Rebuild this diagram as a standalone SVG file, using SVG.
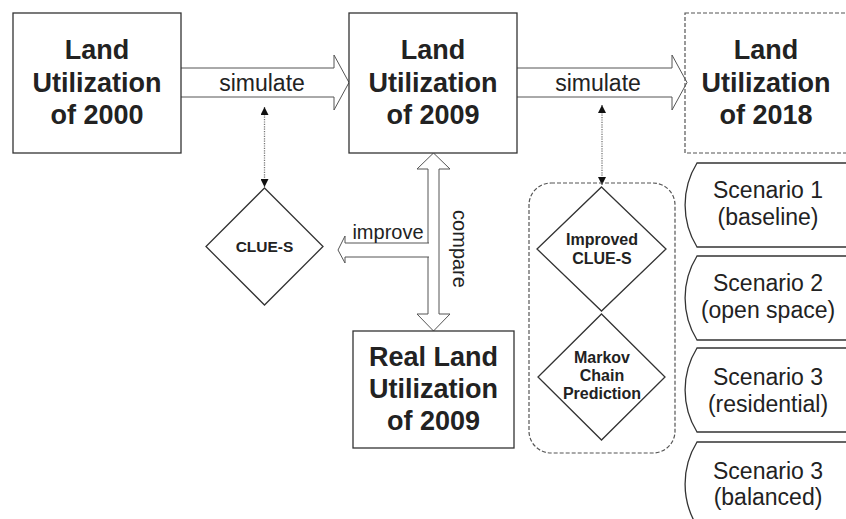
<svg xmlns="http://www.w3.org/2000/svg" width="846" height="519" viewBox="0 0 846 519">
<defs>
<style>
.box{fill:#fff;stroke:#333;stroke-width:1.3}
.dbox{fill:none;stroke:#555;stroke-width:1.2;stroke-dasharray:4,2}
.arr{fill:#fff;stroke:#555;stroke-width:1}
.dot{fill:none;stroke:#777;stroke-width:1.3;stroke-dasharray:1.2,1.2}
.title{font-family:"Liberation Sans",Arial,sans-serif;font-weight:bold;font-size:27px;fill:#222;text-anchor:middle}
.lbl{font-family:"Liberation Sans",Arial,sans-serif;font-size:20px;fill:#222;text-anchor:middle}
.sim{font-size:23px}
.sc{font-family:"Liberation Sans",Arial,sans-serif;font-size:23px;fill:#222;text-anchor:middle}
.dt{font-family:"Liberation Sans",Arial,sans-serif;font-weight:bold;font-size:16px;fill:#222;text-anchor:middle}
</style>
<marker id="ah" viewBox="0 0 10 10" refX="10" refY="5" markerWidth="8" markerHeight="8" markerUnits="userSpaceOnUse" orient="auto-start-reverse">
<path d="M0,0 L10,5 L0,10 Z" fill="#111"/>
</marker>
</defs>

<g id="connectors">
<path class="arr" d="M181,68 H334 V55 L349,82.5 L334,110 V97 H181"/>
<text class="lbl sim" x="262" y="91">simulate</text>
<path class="arr" d="M517,68 H672 V55 L687,82.5 L672,110 V97 H517"/>
<text class="lbl sim" x="598" y="91">simulate</text>
<path class="arr" d="M433.5,153 L450,169 H439 V314 H450 L433.5,331 L417,314 H428 V169 H417 Z"/>
<path class="arr" d="M429,243 H345 V236 L338,250 L345,263 V257 H429"/>
<text class="lbl" x="388" y="239">improve</text>
<text class="lbl" transform="translate(453,249) rotate(90)" x="0" y="0">compare</text>
<line class="dot" x1="264.5" y1="107" x2="264.5" y2="187" marker-start="url(#ah)" marker-end="url(#ah)"/>
<line class="dot" x1="602" y1="105" x2="602" y2="185" marker-start="url(#ah)" marker-end="url(#ah)"/>
</g>

<g id="land2000">
<rect class="box" x="13" y="13" width="168" height="140"/>
<text class="title" x="97" y="59">Land</text>
<text class="title" x="97" y="92">Utilization</text>
<text class="title" x="97" y="124">of 2000</text>
</g>

<g id="land2009">
<rect class="box" x="349" y="13" width="168" height="140"/>
<text class="title" x="433" y="59">Land</text>
<text class="title" x="433" y="92">Utilization</text>
<text class="title" x="433" y="124">of 2009</text>
</g>

<g id="land2018">
<rect class="dbox" x="685" y="13" width="170" height="140"/>
<text class="title" x="766" y="59">Land</text>
<text class="title" x="766" y="92">Utilization</text>
<text class="title" x="766" y="124">of 2018</text>
</g>

<g id="realland2009">
<rect class="box" x="353" y="331" width="161" height="117"/>
<text class="title" x="433.5" y="366">Real Land</text>
<text class="title" x="433.5" y="398">Utilization</text>
<text class="title" x="433.5" y="430">of 2009</text>
</g>

<g id="clues">
<path class="box" d="M264.5,188 L323,246.5 L264.5,305 L206,246.5 Z"/>
<text class="dt" x="264.5" y="252" style="font-size:15.5px">CLUE-S</text>
</g>

<g id="models">
<rect class="dbox" x="529" y="183" width="146" height="270" rx="22" ry="22"/>
</g>

<g id="improvedclues">
<path class="box" d="M601.5,187 L666,249 L601.5,311 L537,249 Z"/>
<text class="dt" x="602" y="245">Improved</text>
<text class="dt" x="602" y="264">CLUE-S</text>
</g>

<g id="markov">
<path class="box" d="M601.5,314 L665,377 L601.5,440 L538,377 Z"/>
<text class="dt" x="602" y="363">Markov</text>
<text class="dt" x="602" y="381">Chain</text>
<text class="dt" x="602" y="399">Prediction</text>
</g>

<g id="scenario1">
<path class="box" d="M855,163 H697 A80,80 0 0,0 697,247 H855"/>
<text class="sc" x="768" y="198">Scenario 1</text>
<text class="sc" x="768" y="225">(baseline)</text>
</g>
<g id="scenario2">
<path class="box" d="M855,256 H697 A80,80 0 0,0 697,340 H855"/>
<text class="sc" x="768" y="291">Scenario 2</text>
<text class="sc" x="768" y="318">(open space)</text>
</g>
<g id="scenario3">
<path class="box" d="M855,348 H697 A80,80 0 0,0 697,432 H855"/>
<text class="sc" x="768" y="385">Scenario 3</text>
<text class="sc" x="768" y="412">(residential)</text>
</g>
<g id="scenario4">
<path class="box" d="M855,442 H697 A80,80 0 0,0 697,526 H855"/>
<text class="sc" x="768" y="479">Scenario 3</text>
<text class="sc" x="768" y="505">(balanced)</text>
</g>
</svg>
